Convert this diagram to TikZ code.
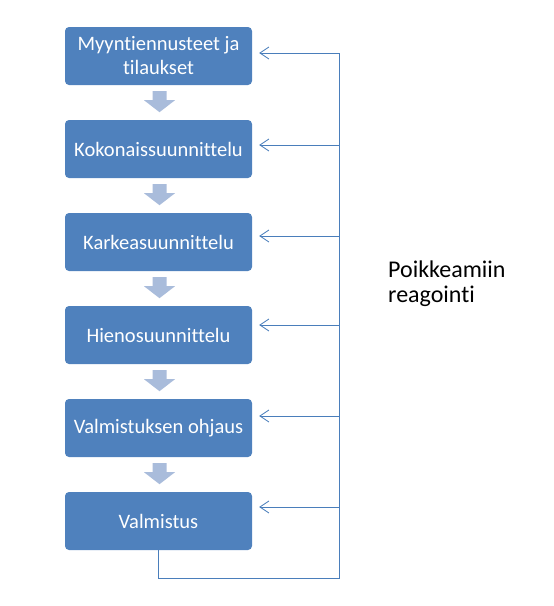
\documentclass[tikz,border=0pt]{standalone}
\usepackage{fontspec}
\setmainfont[RawFeature=-liga]{Carlito}
\usetikzlibrary{arrows.meta,calc}
\definecolor{boxblue}{HTML}{4F81BD}
\definecolor{lightarrow}{HTML}{A9BCDB}
\definecolor{linecol}{HTML}{4A7EBB}
\begin{document}
\begin{tikzpicture}[x=1pt,y=-1pt,
  procbox/.style={fill=boxblue,rounded corners=4pt,minimum width=187pt,minimum height=58pt,
    text=white,font=\fontsize{20.5}{24}\selectfont,align=center,inner sep=0pt},
  fb/.style={draw=linecol,line width=0.8pt},
  fbarrow/.style={fb,-{Straight Barb[length=9pt,width=12pt]},shorten >=7pt},
  blockarrow/.pic={\fill[lightarrow] (-7,0) -- (-7,9) -- (-15.5,9) -- (0,21) -- (15.5,9) -- (7,9) -- (7,0) -- cycle;}
]
\useasboundingbox (0,0) rectangle (554,606);
\node[procbox] (b1) at (158.5,56) {Myyntiennusteet ja\\tilaukset};
\node[procbox] (b2) at (158.5,149) {Kokonaissuunnittelu};
\node[procbox] (b3) at (158.5,242) {Karkeasuunnittelu};
\node[procbox] (b4) at (158.5,335) {Hienosuunnittelu};
\node[procbox] (b5) at (158.5,428) {Valmistuksen ohjaus};
\node[procbox] (b6) at (158.5,521) {Valmistus};
\foreach \i/\j in {1/2,2/3,3/4,4/5,5/6}{
  \pic (ba\i) at ($(b\i.south)+(1,6)$) {blockarrow};
}
\coordinate (r1) at (339,53);
\coordinate (r2) at (339,145);
\coordinate (r3) at (339,236);
\coordinate (r4) at (339,325);
\coordinate (r5) at (339,416);
\coordinate (r6) at (339,507);
\coordinate (rc) at (339,578);
\foreach \i in {1,...,6}{
  \draw[fbarrow] (r\i) -- (r\i -| b\i.east);
}
\draw[fb] (b6.south) |- (rc) -- (r1);
\node[anchor=base west,font=\fontsize{24}{25}\selectfont,align=left,inner sep=0pt] (lbl) at (388,302) {Poikkeamiin\\reagointi};
\end{tikzpicture}
\end{document}
